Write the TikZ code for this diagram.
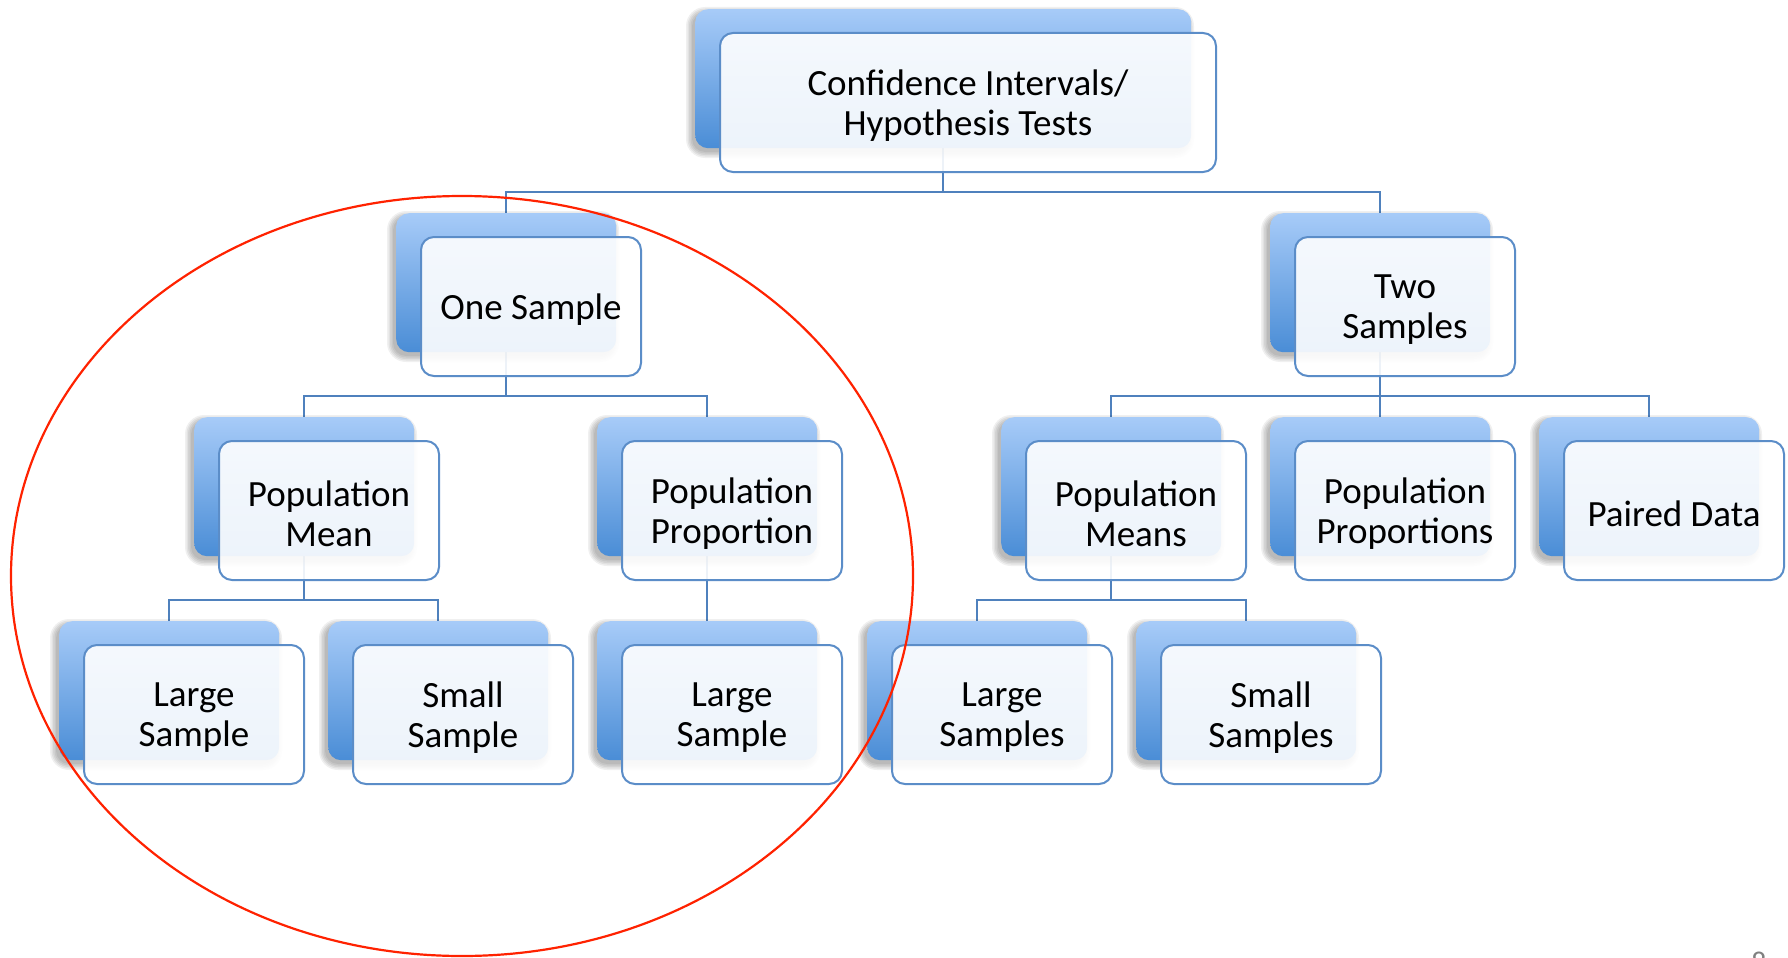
\documentclass[tikz,border=0pt]{standalone}
\usepackage{fontspec}
\setmainfont{Carlito}
\usetikzlibrary{calc}
\definecolor{linkblue}{HTML}{4F81BD}
\definecolor{edgeblue}{HTML}{5B8DC8}
\definecolor{backtop}{HTML}{A7CBF8}
\definecolor{backbot}{HTML}{4A8DD6}
\definecolor{ringred}{HTML}{FF2200}
\pgfdeclarelayer{paper}
\pgfdeclarelayer{links}
\pgfsetlayers{paper,links,main}

\tikzset{
  backbox/.style={rounded corners=13pt, top color=backtop, bottom color=backbot,
    draw=none, minimum height=139pt, anchor=north west, inner sep=0pt},
  frontbox/.style={rounded corners=13pt, draw=edgeblue, line width=2pt, fill=white,
    fill opacity=0.9, minimum height=139pt, anchor=north west, inner sep=0pt},
  boxlabel/.style={align=center, inner sep=0pt, font=\fontsize{37}{40}\selectfont},
  softshadow/.style={fill=black, opacity=0.06},
  link/.style={draw=linkblue, line width=2pt},
  ring/.style={draw=ringred, line width=2.2pt}
}

% a stacked box: soft shadow, shaded back plate (#1B), framed front panel (#1)
% and its label (#1T); #2,#3: top-left corner of the back plate, #4: width, #5: label
\newcommand\smartbox[5]{%
  \foreach \g in {0,1.5,3,4.5,6}
    \fill[softshadow, rounded corners=13pt+\g pt]
      (#2-3-\g,#3+4-\g) rectangle (#2+#4-3+\g,#3+143+\g);
  \node[backbox, minimum width=#4pt] (#1B) at (#2,#3) {};
  \node[frontbox, minimum width=#4pt] (#1) at (#2+24,#3+23) {};
  \node[boxlabel] (#1T) at ([yshift=-3pt]#1.center) {#5};
}

\begin{document}
\begin{tikzpicture}[x=1pt,y=-1pt]
\begin{pgfonlayer}{paper}
  \fill[white] (0,0) rectangle (1788,958);
\end{pgfonlayer}
\useasboundingbox (0,0) rectangle (1788,958);

\smartbox{root}{695}{9}{496}{Confidence Intervals/\\Hypothesis Tests}
\smartbox{one}{396}{213}{220}{One Sample}
\smartbox{two}{1270}{213}{220}{Two\\Samples}
\smartbox{pmean}{194}{417}{220}{Population\\Mean}
\smartbox{pprop}{597}{417}{220}{Population\\Proportion}
\smartbox{pmeans}{1001}{417}{220}{Population\\Means}
\smartbox{pprops}{1270}{417}{220}{Population\\Proportions}
\smartbox{paired}{1539}{417}{220}{Paired Data}
\smartbox{lgA}{59}{621}{220}{Large\\Sample}
\smartbox{smA}{328}{621}{220}{Small\\Sample}
\smartbox{lgB}{597}{621}{220}{Large\\Sample}
\smartbox{lgC}{867}{621}{220}{Large\\Samples}
\smartbox{smC}{1136}{621}{220}{Small\\Samples}

\begin{pgfonlayer}{links}
  \draw[link] (rootB.south) -- ++(0,44) -| (oneB.north);
  \draw[link] (rootB.south) -- ++(0,44) -| (twoB.north);
  \draw[link] (oneB.south) -- ++(0,44) -| (pmeanB.north);
  \draw[link] (oneB.south) -- ++(0,44) -| (ppropB.north);
  \draw[link] (twoB.south) -- ++(0,44) -| (pmeansB.north);
  \draw[link] (twoB.south) -- ++(0,44) -| (ppropsB.north);
  \draw[link] (twoB.south) -- ++(0,44) -| (pairedB.north);
  \draw[link] (pmeanB.south) -- ++(0,44) -| (lgAB.north);
  \draw[link] (pmeanB.south) -- ++(0,44) -| (smAB.north);
  \draw[link] (ppropB.south) -- (lgBB.north);
  \draw[link] (pmeansB.south) -- ++(0,44) -| (lgCB.north);
  \draw[link] (pmeansB.south) -- ++(0,44) -| (smCB.north);
\end{pgfonlayer}

% hand-drawn ring around the one-sample branch
\draw[ring] (462,576) ellipse [x radius=451, y radius=380];

% slide number, mostly below the page edge
\node[text=gray, inner sep=0pt, anchor=north, font=\fontsize{30}{30}\selectfont] (pageno) at (1759,952) {8};
\end{tikzpicture}
\end{document}
